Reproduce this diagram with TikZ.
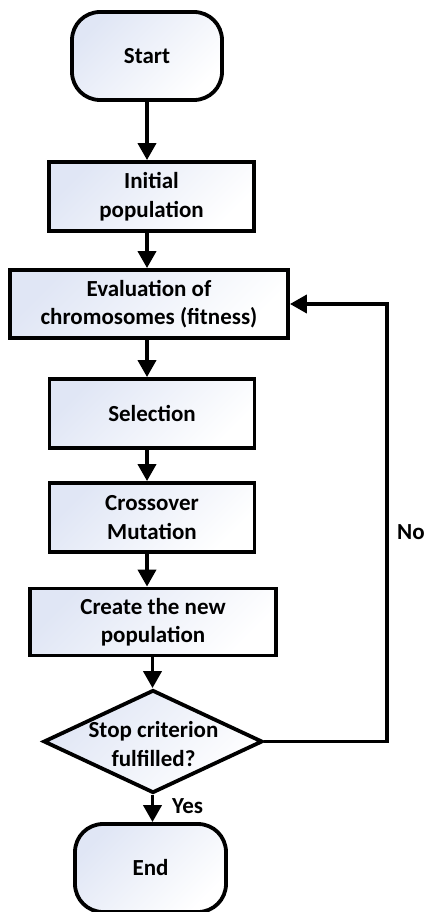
\documentclass[tikz,border=0pt]{standalone}
\usepackage{fontspec}
\setmainfont{Carlito}
\usetikzlibrary{arrows.meta,shapes.geometric}

\definecolor{palefill}{RGB}{224,230,245}

\tikzset{
  x=1pt, y=-1pt,
  lbl/.style={font=\fontsize{23}{28.5}\selectfont\bfseries, text=black},
  shaded/.style={top color=palefill, bottom color=white, shading angle=45},
  procbox/.style={lbl, shaded, draw=black, line width=3.8pt, rectangle,
    align=center, inner sep=0pt},
  terminal/.style={lbl, shaded, draw=black, line width=3.8pt, rectangle,
    rounded corners=28pt, inner sep=0pt, minimum width=150pt, minimum height=88pt},
  decision/.style={shaded, draw=black, line width=3.8pt, diamond,
    inner sep=0pt, minimum width=219pt, minimum height=103pt},
  flow/.style={line width=3.8pt, -{Triangle[length=17pt,width=18pt]}},
}

\begin{document}
\begin{tikzpicture}
  \useasboundingbox (0,0) rectangle (425,912);

  % column positions of the vertical connectors
  \coordinate (ax) at (147,0);
  \coordinate (bx) at (152.5,0);
  \coordinate (loopc) at (387,304);

  % steps of the algorithm
  \node[terminal] (start) at (147,56) {Start};
  \node[procbox, minimum width=205pt, minimum height=69pt] (init) at (151.5,196.5)
    {Initial\\population};
  \node[procbox, minimum width=278pt, minimum height=68pt] (eval) at (149,304)
    {Evaluation of\\chromosomes (fitness)};
  \node[procbox, minimum width=205pt, minimum height=69pt] (sel) at (152,413.5)
    {Selection};
  \node[procbox, minimum width=205pt, minimum height=69pt] (cross) at (152,517.5)
    {Crossover\\Mutation};
  \node[procbox, minimum width=246pt, minimum height=67pt] (create) at (153,622)
    {Create the new\\population};
  \node[decision] (stop) at (153,741.5) {};
  \node[lbl, align=center] (stoptxt) at (153.5,744) {Stop criterion\\fulfilled?};
  \node[terminal, minimum width=151pt] (end) at (150.5,868) {End};

  % branch labels
  \node[lbl, anchor=west, inner sep=0pt] (no) at (397,532) {No};
  \node[lbl, anchor=west, inner sep=0pt] (yes) at (172,806) {Yes};

  % connectors
  \draw[flow] (start.south -| ax) -- (init.north -| ax);
  \draw[flow] (init.south -| ax) -- (eval.north -| ax);
  \draw[flow] (eval.south -| ax) -- (sel.north -| ax);
  \draw[flow] (sel.south -| ax) -- (cross.north -| ax);
  \draw[flow] (cross.south -| ax) -- (create.north -| ax);
  \draw[flow] (create.south -| bx) -- (stop.north -| bx);
  \draw[flow] (stop.south -| bx) -- (end.north -| bx);
  \draw[flow] (stop.east) -| (loopc) -- (eval.east);
\end{tikzpicture}
\end{document}
